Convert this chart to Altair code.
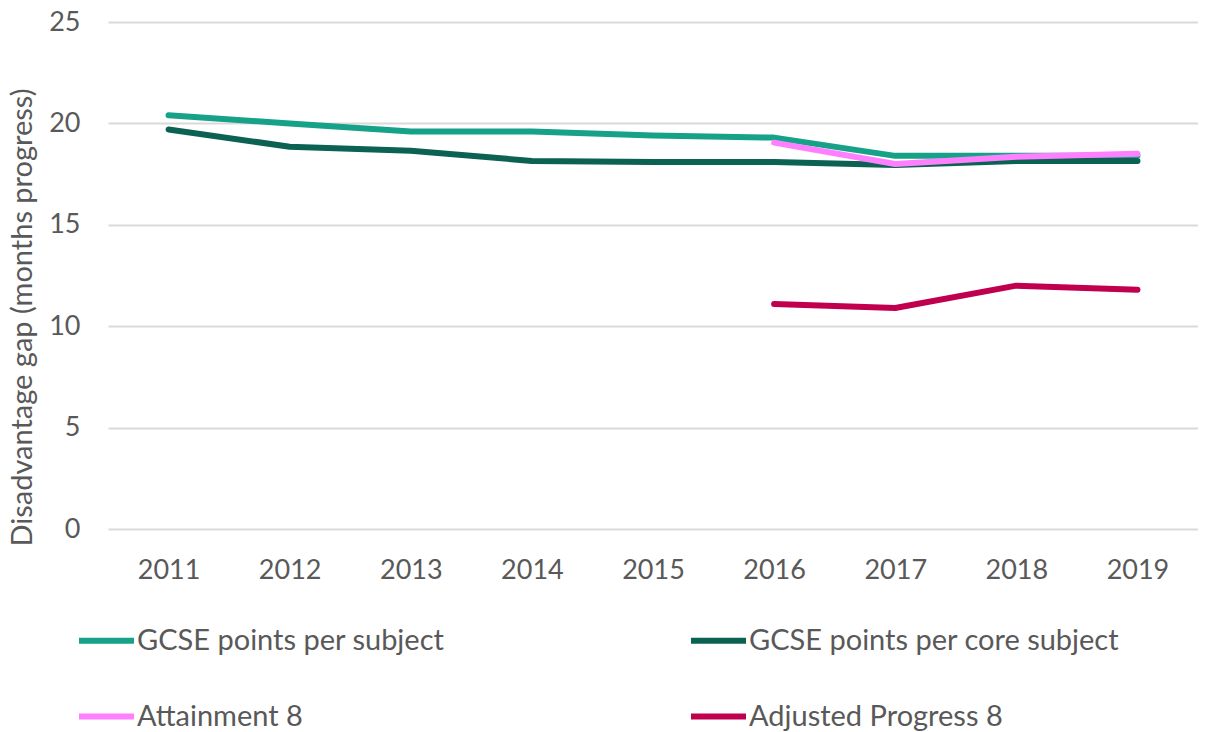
import altair as alt
import pandas as pd

years = ["2011", "2012", "2013", "2014", "2015", "2016", "2017", "2018", "2019"]
series_names = ["GCSE points per subject", "GCSE points per core subject",
                "Attainment 8", "Adjusted Progress 8"]
gcse_subject = [20.4, 20.0, 19.6, 19.6, 19.4, 19.3, 18.4, 18.4, 18.4]
gcse_core = [19.7, 18.85, 18.65, 18.15, 18.1, 18.1, 17.95, 18.15, 18.15]
attainment8 = [None, None, None, None, None, 19.05, 18.0, 18.35, 18.5]
adj_progress8 = [None, None, None, None, None, 11.1, 10.9, 12.0, 11.8]
colors = ["#16a288", "#0b6152", "#ff80ff", "#c0004e"]

rows = []
for name, vals in zip(series_names, [gcse_subject, gcse_core, attainment8, adj_progress8]):
    for y, v in zip(years, vals):
        if v is not None:
            rows.append({"year": y, "series": name, "value": v})
df = pd.DataFrame(rows)

FONT = "Lato"
GREY = "#595959"

chart = alt.Chart(df).mark_line(strokeWidth=6, strokeCap="round", strokeJoin="round").encode(
    x=alt.X("year:O", sort=years, scale=alt.Scale(type="point", padding=0.5),
            axis=alt.Axis(title=None, labelAngle=0, domain=False, ticks=False,
                          labelPadding=28, labelFontSize=27, labelColor=GREY, labelFont=FONT)),
    y=alt.Y("value:Q", scale=alt.Scale(domain=[0, 25]),
            axis=alt.Axis(title="Disadvantage gap (months progress)", values=[0, 5, 10, 15, 20, 25],
                          domain=False, ticks=False, labelPadding=28, labelFontSize=27,
                          labelColor=GREY, labelFont=FONT, titleFontSize=29, titleColor=GREY,
                          titleFont=FONT, titleFontWeight="normal",
                          titleX=-86, titleY=295, titleBaseline="middle",
                          gridColor="#d9d9d9", gridWidth=2)),
    color=alt.Color("series:N", sort=series_names,
                    scale=alt.Scale(domain=series_names, range=colors),
                    legend=alt.Legend(title=None, orient="none", legendX=-32, legendY=588,
                                      columns=2, direction="horizontal",
                                      symbolType="stroke", symbolSize=3025, symbolStrokeWidth=6,
                                      labelFontSize=29, labelColor=GREY, labelFont=FONT,
                                      labelOffset=0, columnPadding=234, rowPadding=30,
                                      labelLimit=500)),
).properties(
    width=1090, height=507,
    autosize=alt.AutoSizeParams(type="none"),
    padding={"left": 100, "top": 14, "right": 0, "bottom": 203},
).configure_view(stroke=None)

chart.save("out.html", embed_options={"renderer": "svg", "actions": False})
